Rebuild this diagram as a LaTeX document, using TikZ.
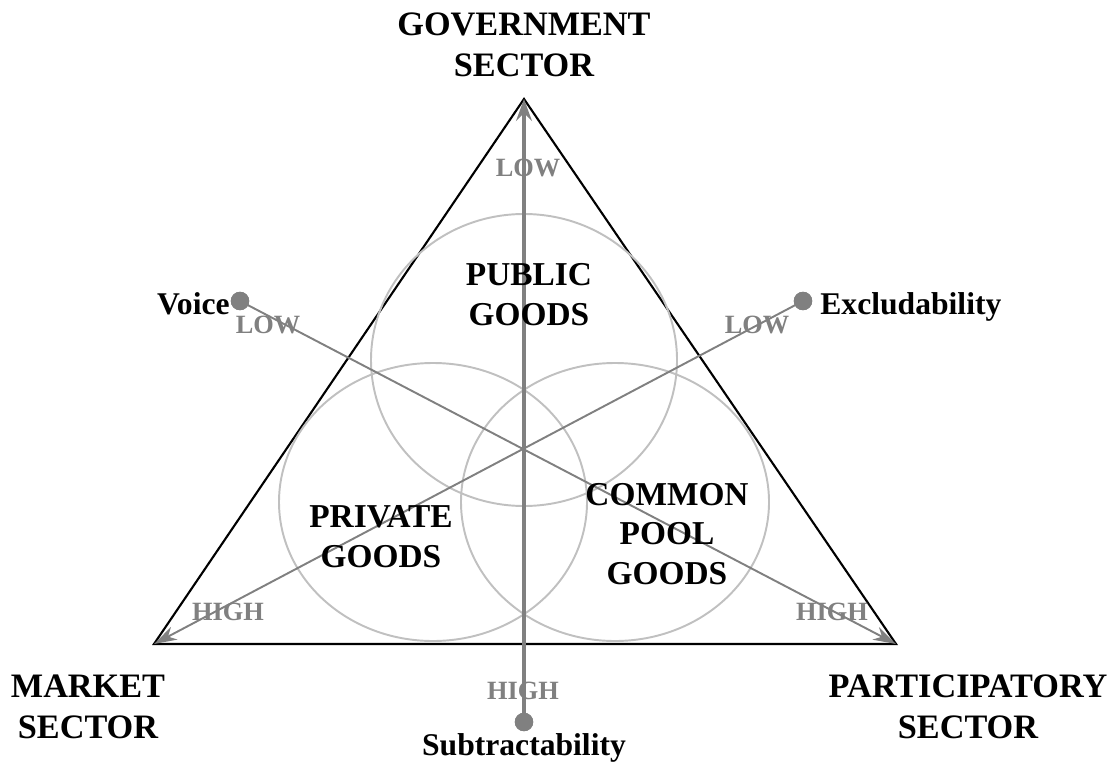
\documentclass[tikz,border=0pt]{standalone}
\usepackage{fontspec}
\setmainfont{Liberation Serif}
\usetikzlibrary{arrows.meta}
\definecolor{axisgray}{HTML}{808080}
\definecolor{setgray}{HTML}{C0C0C0}
\begin{document}
\begin{tikzpicture}[x=0.02cm,y=-0.02cm,
  tri/.style={draw=black,line width=1.2pt,line join=miter},
  setline/.style={draw=setgray,line width=1.1pt},
  axisthin/.style={draw=axisgray,line width=1.1pt,
    -{Stealth[length=13pt,width=8pt,inset=4pt,fill=axisgray]}},
  axisthick/.style={draw=axisgray,line width=2.6pt,
    -{Stealth[length=12.5pt,width=9pt,inset=4.5pt,fill=axisgray]}},
  endpoint/.style={circle,fill=axisgray,inner sep=0pt,minimum size=10.5pt},
  sector/.style={font=\fontsize{19.5}{23.5}\selectfont\bfseries,align=center,inner sep=0pt},
  goods/.style={font=\fontsize{19}{22.7}\selectfont\bfseries,align=center,inner sep=0pt},
  dimlabel/.style={font=\fontsize{18}{20}\selectfont\bfseries,inner sep=0pt},
  level/.style={font=\fontsize{15}{18}\selectfont\bfseries,text=axisgray,inner sep=0pt}]
  \useasboundingbox (0,0) rectangle (1118,767);

  % triangle of sectors
  \coordinate (apex) at (524,99);
  \coordinate (bl) at (154,644);
  \coordinate (br) at (896,644);
  \draw[tri] (apex) -- (bl) -- (br) -- cycle;

  % the three sets of goods
  \draw[setline] (524,360) ellipse [x radius=153, y radius=146];
  \draw[setline] (433,502) ellipse [x radius=154, y radius=139];
  \draw[setline] (615,502) ellipse [x radius=154, y radius=139];

  % dimension end points
  \node[endpoint] (vdot) at (240,301) {};
  \node[endpoint] (edot) at (803,301) {};
  \node[endpoint] (sdot) at (524,722) {};

  % dimension axes
  \draw[axisthin] (vdot.center) -- (br);
  \draw[axisthin] (edot.center) -- (bl);
  \draw[axisthick] (sdot.center) -- (apex);
  \node[endpoint] at (vdot) {};
  \node[endpoint] at (edot) {};
  \node[endpoint] at (sdot) {};

  % sector labels
  \node[sector] (gov) at (524,45) {GOVERNMENT\\SECTOR};
  \node[sector] (mkt) at (88,707) {MARKET\\SECTOR};
  \node[sector] (part) at (968,707) {PARTICIPATORY\\SECTOR};

  % goods labels
  \node[goods] (pub) at (529,295) {PUBLIC\\GOODS};
  \node[goods] (priv) at (381,537) {PRIVATE\\GOODS};
  \node[goods] (cpr) at (667,534) {COMMON\\POOL\\GOODS};

  % dimension labels
  \node[dimlabel,anchor=base east] (voice) at (230,314) {Voice};
  \node[dimlabel,anchor=base west] (excl) at (820,314) {Excludability};
  \node[dimlabel] (subt) at (524,748) {Subtractability};

  % level labels
  \node[level] (lowS) at (528,168) {LOW};
  \node[level] (lowV) at (268,325) {LOW};
  \node[level] (lowE) at (757,325) {LOW};
  \node[level] (highE) at (228,612) {HIGH};
  \node[level] (highV) at (832,612) {HIGH};
  \node[level] (highS) at (523,691) {HIGH};
\end{tikzpicture}
\end{document}
